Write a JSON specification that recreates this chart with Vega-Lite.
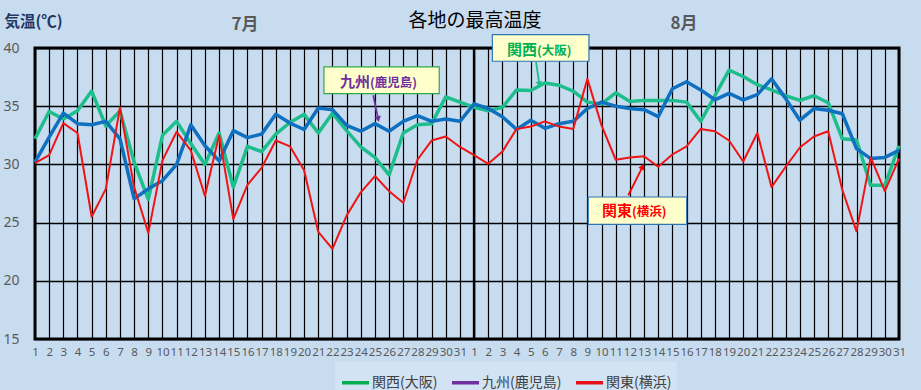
{
  "$schema": "https://vega.github.io/schema/vega-lite/v6.json",
  "width": 864,
  "height": 291,
  "autosize": {"type": "none"},
  "padding": {"left": 35, "top": 48, "right": 22, "bottom": 51},
  "background": "#C8DCF0",
  "config": {
    "view": {"stroke": "black", "strokeWidth": 3, "fill": "#C8DCF0"},
    "font": "Noto Sans CJK JP"
  },
  "datasets": {
    "temps": [
      {"i":1,"s":"関西(大阪)","t":32.2},{"i":2,"s":"関西(大阪)","t":34.55},{"i":3,"s":"関西(大阪)","t":33.9},{"i":4,"s":"関西(大阪)","t":34.6},{"i":5,"s":"関西(大阪)","t":36.3},{"i":6,"s":"関西(大阪)","t":33.3},{"i":7,"s":"関西(大阪)","t":34.6},{"i":8,"s":"関西(大阪)","t":30.2},{"i":9,"s":"関西(大阪)","t":27.0},{"i":10,"s":"関西(大阪)","t":32.5},
      {"i":11,"s":"関西(大阪)","t":33.7},{"i":12,"s":"関西(大阪)","t":31.8},{"i":13,"s":"関西(大阪)","t":30.0},{"i":14,"s":"関西(大阪)","t":32.7},{"i":15,"s":"関西(大阪)","t":28.05},{"i":16,"s":"関西(大阪)","t":31.55},{"i":17,"s":"関西(大阪)","t":31.1},{"i":18,"s":"関西(大阪)","t":32.6},{"i":19,"s":"関西(大阪)","t":33.6},{"i":20,"s":"関西(大阪)","t":34.3},
      {"i":21,"s":"関西(大阪)","t":32.7},{"i":22,"s":"関西(大阪)","t":34.4},{"i":23,"s":"関西(大阪)","t":32.9},{"i":24,"s":"関西(大阪)","t":31.5},{"i":25,"s":"関西(大阪)","t":30.6},{"i":26,"s":"関西(大阪)","t":29.1},{"i":27,"s":"関西(大阪)","t":32.7},{"i":28,"s":"関西(大阪)","t":33.4},{"i":29,"s":"関西(大阪)","t":33.5},{"i":30,"s":"関西(大阪)","t":35.8},
      {"i":31,"s":"関西(大阪)","t":35.35},{"i":32,"s":"関西(大阪)","t":34.9},{"i":33,"s":"関西(大阪)","t":34.6},{"i":34,"s":"関西(大阪)","t":34.9},{"i":35,"s":"関西(大阪)","t":36.4},{"i":36,"s":"関西(大阪)","t":36.35},{"i":37,"s":"関西(大阪)","t":37.0},{"i":38,"s":"関西(大阪)","t":36.8},{"i":39,"s":"関西(大阪)","t":36.3},{"i":40,"s":"関西(大阪)","t":35.35},
      {"i":41,"s":"関西(大阪)","t":35.2},{"i":42,"s":"関西(大阪)","t":36.15},{"i":43,"s":"関西(大阪)","t":35.4},{"i":44,"s":"関西(大阪)","t":35.5},{"i":45,"s":"関西(大阪)","t":35.5},{"i":46,"s":"関西(大阪)","t":35.5},{"i":47,"s":"関西(大阪)","t":35.35},{"i":48,"s":"関西(大阪)","t":33.7},{"i":49,"s":"関西(大阪)","t":35.9},{"i":50,"s":"関西(大阪)","t":38.1},
      {"i":51,"s":"関西(大阪)","t":37.55},{"i":52,"s":"関西(大阪)","t":36.85},{"i":53,"s":"関西(大阪)","t":36.4},{"i":54,"s":"関西(大阪)","t":35.9},{"i":55,"s":"関西(大阪)","t":35.5},{"i":56,"s":"関西(大阪)","t":35.9},{"i":57,"s":"関西(大阪)","t":35.3},{"i":58,"s":"関西(大阪)","t":32.2},{"i":59,"s":"関西(大阪)","t":32.1},{"i":60,"s":"関西(大阪)","t":28.2},
      {"i":61,"s":"関西(大阪)","t":28.2},{"i":62,"s":"関西(大阪)","t":31.6},

      {"i":1,"s":"九州(鹿児島)","t":30.2},{"i":2,"s":"九州(鹿児島)","t":32.35},{"i":3,"s":"九州(鹿児島)","t":34.4},{"i":4,"s":"九州(鹿児島)","t":33.5},{"i":5,"s":"九州(鹿児島)","t":33.4},{"i":6,"s":"九州(鹿児島)","t":33.7},{"i":7,"s":"九州(鹿児島)","t":32.2},{"i":8,"s":"九州(鹿児島)","t":27.05},{"i":9,"s":"九州(鹿児島)","t":27.9},{"i":10,"s":"九州(鹿児島)","t":28.6},
      {"i":11,"s":"九州(鹿児島)","t":30.0},{"i":12,"s":"九州(鹿児島)","t":33.4},{"i":13,"s":"九州(鹿児島)","t":31.6},{"i":14,"s":"九州(鹿児島)","t":30.3},{"i":15,"s":"九州(鹿児島)","t":32.9},{"i":16,"s":"九州(鹿児島)","t":32.3},{"i":17,"s":"九州(鹿児島)","t":32.6},{"i":18,"s":"九州(鹿児島)","t":34.3},{"i":19,"s":"九州(鹿児島)","t":33.55},{"i":20,"s":"九州(鹿児島)","t":33.0},
      {"i":21,"s":"九州(鹿児島)","t":34.85},{"i":22,"s":"九州(鹿児島)","t":34.7},{"i":23,"s":"九州(鹿児島)","t":33.35},{"i":24,"s":"九州(鹿児島)","t":32.85},{"i":25,"s":"九州(鹿児島)","t":33.5},{"i":26,"s":"九州(鹿児島)","t":32.85},{"i":27,"s":"九州(鹿児島)","t":33.7},{"i":28,"s":"九州(鹿児島)","t":34.2},{"i":29,"s":"九州(鹿児島)","t":33.7},{"i":30,"s":"九州(鹿児島)","t":33.9},
      {"i":31,"s":"九州(鹿児島)","t":33.7},{"i":32,"s":"九州(鹿児島)","t":35.2},{"i":33,"s":"九州(鹿児島)","t":34.8},{"i":34,"s":"九州(鹿児島)","t":34.1},{"i":35,"s":"九州(鹿児島)","t":33.0},{"i":36,"s":"九州(鹿児島)","t":33.8},{"i":37,"s":"九州(鹿児島)","t":33.1},{"i":38,"s":"九州(鹿児島)","t":33.5},{"i":39,"s":"九州(鹿児島)","t":33.7},{"i":40,"s":"九州(鹿児島)","t":34.8},
      {"i":41,"s":"九州(鹿児島)","t":35.35},{"i":42,"s":"九州(鹿児島)","t":35.0},{"i":43,"s":"九州(鹿児島)","t":34.8},{"i":44,"s":"九州(鹿児島)","t":34.7},{"i":45,"s":"九州(鹿児島)","t":34.1},{"i":46,"s":"九州(鹿児島)","t":36.5},{"i":47,"s":"九州(鹿児島)","t":37.1},{"i":48,"s":"九州(鹿児島)","t":36.4},{"i":49,"s":"九州(鹿児島)","t":35.55},{"i":50,"s":"九州(鹿児島)","t":36.1},
      {"i":51,"s":"九州(鹿児島)","t":35.55},{"i":52,"s":"九州(鹿児島)","t":36.0},{"i":53,"s":"九州(鹿児島)","t":37.35},{"i":54,"s":"九州(鹿児島)","t":35.65},{"i":55,"s":"九州(鹿児島)","t":33.8},{"i":56,"s":"九州(鹿児島)","t":34.8},{"i":57,"s":"九州(鹿児島)","t":34.65},{"i":58,"s":"九州(鹿児島)","t":34.35},{"i":59,"s":"九州(鹿児島)","t":31.35},{"i":60,"s":"九州(鹿児島)","t":30.5},
      {"i":61,"s":"九州(鹿児島)","t":30.6},{"i":62,"s":"九州(鹿児島)","t":31.2},

      {"i":1,"s":"関東(横浜)","t":30.1},{"i":2,"s":"関東(横浜)","t":30.8},{"i":3,"s":"関東(横浜)","t":33.55},{"i":4,"s":"関東(横浜)","t":32.7},{"i":5,"s":"関東(横浜)","t":25.5},{"i":6,"s":"関東(横浜)","t":27.9},{"i":7,"s":"関東(横浜)","t":34.9},{"i":8,"s":"関東(横浜)","t":28.05},{"i":9,"s":"関東(横浜)","t":24.1},{"i":10,"s":"関東(横浜)","t":30.35},
      {"i":11,"s":"関東(横浜)","t":32.8},{"i":12,"s":"関東(横浜)","t":31.2},{"i":13,"s":"関東(横浜)","t":27.3},{"i":14,"s":"関東(横浜)","t":32.5},{"i":15,"s":"関東(横浜)","t":25.3},{"i":16,"s":"関東(横浜)","t":28.25},{"i":17,"s":"関東(横浜)","t":29.7},{"i":18,"s":"関東(横浜)","t":32.05},{"i":19,"s":"関東(横浜)","t":31.55},{"i":20,"s":"関東(横浜)","t":29.5},
      {"i":21,"s":"関東(横浜)","t":24.2},{"i":22,"s":"関東(横浜)","t":22.75},{"i":23,"s":"関東(横浜)","t":25.6},{"i":24,"s":"関東(横浜)","t":27.6},{"i":25,"s":"関東(横浜)","t":29.0},{"i":26,"s":"関東(横浜)","t":27.7},{"i":27,"s":"関東(横浜)","t":26.7},{"i":28,"s":"関東(横浜)","t":30.4},{"i":29,"s":"関東(横浜)","t":32.05},{"i":30,"s":"関東(横浜)","t":32.4},
      {"i":31,"s":"関東(横浜)","t":31.5},{"i":32,"s":"関東(横浜)","t":30.8},{"i":33,"s":"関東(横浜)","t":30.05},{"i":34,"s":"関東(横浜)","t":31.1},{"i":35,"s":"関東(横浜)","t":33.05},{"i":36,"s":"関東(横浜)","t":33.25},{"i":37,"s":"関東(横浜)","t":33.7},{"i":38,"s":"関東(横浜)","t":33.25},{"i":39,"s":"関東(横浜)","t":33.05},{"i":40,"s":"関東(横浜)","t":37.35},
      {"i":41,"s":"関東(横浜)","t":33.35},{"i":42,"s":"関東(横浜)","t":30.4},{"i":43,"s":"関東(横浜)","t":30.6},{"i":44,"s":"関東(横浜)","t":30.7},{"i":45,"s":"関東(横浜)","t":29.8},{"i":46,"s":"関東(横浜)","t":30.85},{"i":47,"s":"関東(横浜)","t":31.55},{"i":48,"s":"関東(横浜)","t":33.05},{"i":49,"s":"関東(横浜)","t":32.85},{"i":50,"s":"関東(横浜)","t":32.05},
      {"i":51,"s":"関東(横浜)","t":30.25},{"i":52,"s":"関東(横浜)","t":32.7},{"i":53,"s":"関東(横浜)","t":28.05},{"i":54,"s":"関東(横浜)","t":29.8},{"i":55,"s":"関東(横浜)","t":31.45},{"i":56,"s":"関東(横浜)","t":32.4},{"i":57,"s":"関東(横浜)","t":32.85},{"i":58,"s":"関東(横浜)","t":27.8},{"i":59,"s":"関東(横浜)","t":24.25},{"i":60,"s":"関東(横浜)","t":30.6},
      {"i":61,"s":"関東(横浜)","t":27.7},{"i":62,"s":"関東(横浜)","t":30.5}
    ],
    "notes": [
      {"n":"九州","main":"九州","sub":"(鹿児島)","x1":21.40,"x2":29.54,"y1":38.37,"y2":36.08,"sx":24.65,"ty":37.08,"ax1":24.88,"ay1":35.94,"ax2":25.23,"ay2":33.89},
      {"n":"関西","main":"関西","sub":"(大阪)","x1":33.29,"x2":40.11,"y1":41.15,"y2":38.86,"sx":36.44,"ty":39.86,"ax1":36.37,"ay1":38.86,"ax2":36.61,"ay2":36.88},
      {"n":"関東","main":"関東","sub":"(横浜)","x1":40.06,"x2":47.01,"y1":27.20,"y2":24.85,"sx":43.15,"ty":25.97,"ax1":42.89,"ay1":27.35,"ax2":43.9,"ay2":29.81}
    ],
    "months": [
      {"m":"7月","i":15.83,"t":42.0},
      {"m":"8月","i":46.82,"t":42.1}
    ],
    "heading": [
      {"h":"各地の最高温度","i":32.06,"t":42.29}
    ]
  },
  "resolve": {"scale": {"stroke": "independent", "fill": "independent"}},
  "layer": [
    {
      "data": {"name": "temps"},
      "mark": {"type": "line", "opacity": 0, "strokeWidth": 3.5},
      "encoding": {
        "x": {
          "field": "i", "type": "quantitative",
          "scale": {"domain": [1, 62], "nice": false, "zero": false},
          "axis": {
            "values": [1,2,3,4,5,6,7,8,9,10,11,12,13,14,15,16,17,18,19,20,21,22,23,24,25,26,27,28,29,30,31,32,33,34,35,36,37,38,39,40,41,42,43,44,45,46,47,48,49,50,51,52,53,54,55,56,57,58,59,60,61,62],
            "tickCount": 62,
            "labelExpr": "datum.value > 31 ? datum.value - 31 : datum.value",
            "grid": true, "gridColor": "#000000", "gridWidth": 1.2, "gridOpacity": 1,
            "ticks": false, "domain": false,
            "labelFontSize": 11.5, "labelColor": "#595959", "labelFont": "Noto Sans",
            "labelPadding": 7, "labelOverlap": false, "labelFlush": false, "labelBound": false,
            "title": null
          }
        },
        "y": {
          "field": "t", "type": "quantitative",
          "scale": {"domain": [15, 40], "nice": false, "zero": false},
          "axis": {
            "values": [15, 20, 25, 30, 35, 40],
            "grid": true, "gridColor": "#000000", "gridWidth": 1.5, "gridOpacity": 1,
            "ticks": false, "domain": false,
            "labelFontSize": 14, "labelColor": "#595959", "labelFont": "Noto Sans",
            "labelPadding": 16,
            "title": "気温(℃)",
            "titleAngle": 0, "titleX": -31, "titleY": -27,
            "titleAlign": "left", "titleBaseline": "middle",
            "titleFontSize": 15.5, "titleFontWeight": "bold", "titleColor": "#1F3864",
            "titleFont": "Noto Sans CJK JP"
          }
        },
        "color": {
          "field": "s", "type": "nominal",
          "scale": {"domain": ["関西(大阪)", "九州(鹿児島)", "関東(横浜)"], "range": ["#00B050", "#7030A0", "#E8101A"]},
          "legend": {
            "orient": "none", "legendX": 300, "legendY": 314,
            "direction": "horizontal", "title": null,
            "fillColor": "#D2E3F3", "padding": 5,
            "symbolType": "stroke", "symbolSize": 729, "symbolStrokeWidth": 3.5, "symbolOpacity": 1,
            "labelFontSize": 14, "labelColor": "#404040", "labelFont": "Noto Sans CJK JP",
            "labelOffset": 1, "columnPadding": 7, "labelLimit": 200
          }
        }
      }
    },
    {
      "data": {"values": [{"i": 32}]},
      "mark": {"type": "rule", "color": "#000000", "strokeWidth": 2.5},
      "encoding": {
        "x": {"field": "i", "type": "quantitative", "scale": {"domain": [1, 62], "nice": false, "zero": false}}
      }
    },
    {
      "data": {"name": "temps"},
      "transform": [{"filter": "datum.s !== '関東(横浜)'"}],
      "mark": {"type": "line", "strokeWidth": 3.5, "strokeJoin": "round"},
      "encoding": {
        "x": {"field": "i", "type": "quantitative", "scale": {"domain": [1, 62], "nice": false, "zero": false}},
        "y": {"field": "t", "type": "quantitative", "scale": {"domain": [15, 40], "nice": false, "zero": false}},
        "stroke": {
          "field": "s", "type": "nominal",
          "scale": {"domain": ["関西(大阪)", "九州(鹿児島)"], "range": ["#1DBE8C", "#1070C0"]},
          "legend": null
        }
      }
    },
    {
      "data": {"name": "temps"},
      "transform": [{"filter": "datum.s === '関東(横浜)'"}],
      "mark": {"type": "line", "strokeWidth": 2, "color": "#F01414", "strokeJoin": "round"},
      "encoding": {
        "x": {"field": "i", "type": "quantitative", "scale": {"domain": [1, 62], "nice": false, "zero": false}},
        "y": {"field": "t", "type": "quantitative", "scale": {"domain": [15, 40], "nice": false, "zero": false}}
      }
    },
    {
      "data": {"name": "notes"},
      "mark": {"type": "rect", "fill": "#FFFFCC", "strokeWidth": 1.2},
      "encoding": {
        "x": {"field": "x1", "type": "quantitative", "scale": {"domain": [1, 62], "nice": false, "zero": false}},
        "x2": {"field": "x2"},
        "y": {"field": "y1", "type": "quantitative", "scale": {"domain": [15, 40], "nice": false, "zero": false}},
        "y2": {"field": "y2"},
        "stroke": {
          "field": "n", "type": "nominal",
          "scale": {"domain": ["九州", "関西", "関東"], "range": ["#2EA84F", "#2E75B6", "#2E75B6"]},
          "legend": null
        }
      }
    },
    {
      "data": {"name": "notes"},
      "mark": {"type": "rule", "strokeWidth": 1.8},
      "encoding": {
        "x": {"field": "ax1", "type": "quantitative", "scale": {"domain": [1, 62], "nice": false, "zero": false}},
        "x2": {"field": "ax2"},
        "y": {"field": "ay1", "type": "quantitative", "scale": {"domain": [15, 40], "nice": false, "zero": false}},
        "y2": {"field": "ay2"},
        "stroke": {
          "field": "n", "type": "nominal",
          "scale": {"domain": ["九州", "関西", "関東"], "range": ["#7030A0", "#1DBE8C", "#FF0000"]},
          "legend": null
        }
      }
    },
    {
      "data": {"name": "notes"},
      "transform": [{"filter": "datum.n === '九州'"}],
      "mark": {"type": "point", "shape": "triangle-up", "filled": true, "opacity": 1, "size": 45, "angle": 168, "color": "#7030A0"},
      "encoding": {
        "x": {"field": "ax2", "type": "quantitative", "scale": {"domain": [1, 62], "nice": false, "zero": false}},
        "y": {"field": "ay2", "type": "quantitative", "scale": {"domain": [15, 40], "nice": false, "zero": false}}
      }
    },
    {
      "data": {"name": "notes"},
      "transform": [{"filter": "datum.n === '関西'"}],
      "mark": {"type": "point", "shape": "triangle-up", "filled": true, "opacity": 1, "size": 45, "angle": 171, "color": "#1DBE8C"},
      "encoding": {
        "x": {"field": "ax2", "type": "quantitative", "scale": {"domain": [1, 62], "nice": false, "zero": false}},
        "y": {"field": "ay2", "type": "quantitative", "scale": {"domain": [15, 40], "nice": false, "zero": false}}
      }
    },
    {
      "data": {"name": "notes"},
      "transform": [{"filter": "datum.n === '関東'"}],
      "mark": {"type": "point", "shape": "triangle-up", "filled": true, "opacity": 1, "size": 45, "angle": 27, "color": "#FF0000"},
      "encoding": {
        "x": {"field": "ax2", "type": "quantitative", "scale": {"domain": [1, 62], "nice": false, "zero": false}},
        "y": {"field": "ay2", "type": "quantitative", "scale": {"domain": [15, 40], "nice": false, "zero": false}}
      }
    },
    {
      "data": {"name": "notes"},
      "mark": {"type": "text", "align": "right", "baseline": "middle", "fontSize": 15, "fontWeight": "bold", "font": "Noto Sans CJK JP"},
      "encoding": {
        "x": {"field": "sx", "type": "quantitative", "scale": {"domain": [1, 62], "nice": false, "zero": false}},
        "y": {"field": "ty", "type": "quantitative", "scale": {"domain": [15, 40], "nice": false, "zero": false}},
        "text": {"field": "main"},
        "fill": {
          "field": "n", "type": "nominal",
          "scale": {"domain": ["九州", "関西", "関東"], "range": ["#7030A0", "#00B050", "#FF0000"]},
          "legend": null
        }
      }
    },
    {
      "data": {"name": "notes"},
      "mark": {"type": "text", "align": "left", "baseline": "middle", "fontSize": 12.5, "fontWeight": "bold", "font": "Noto Sans CJK JP", "dy": 1},
      "encoding": {
        "x": {"field": "sx", "type": "quantitative", "scale": {"domain": [1, 62], "nice": false, "zero": false}},
        "y": {"field": "ty", "type": "quantitative", "scale": {"domain": [15, 40], "nice": false, "zero": false}},
        "text": {"field": "sub"},
        "fill": {
          "field": "n", "type": "nominal",
          "scale": {"domain": ["九州", "関西", "関東"], "range": ["#7030A0", "#00B050", "#FF0000"]},
          "legend": null
        }
      }
    },
    {
      "data": {"name": "months"},
      "mark": {"type": "text", "align": "center", "baseline": "middle", "fontSize": 17, "fontWeight": "bold", "font": "Noto Sans CJK JP", "color": "#595959"},
      "encoding": {
        "x": {"field": "i", "type": "quantitative", "scale": {"domain": [1, 62], "nice": false, "zero": false}},
        "y": {"field": "t", "type": "quantitative", "scale": {"domain": [15, 40], "nice": false, "zero": false}},
        "text": {"field": "m"}
      }
    },
    {
      "data": {"name": "heading"},
      "mark": {"type": "text", "align": "center", "baseline": "middle", "fontSize": 19, "fontWeight": "normal", "font": "Noto Sans CJK JP", "color": "#000000"},
      "encoding": {
        "x": {"field": "i", "type": "quantitative", "scale": {"domain": [1, 62], "nice": false, "zero": false}},
        "y": {"field": "t", "type": "quantitative", "scale": {"domain": [15, 40], "nice": false, "zero": false}},
        "text": {"field": "h"}
      }
    }
  ]
}
